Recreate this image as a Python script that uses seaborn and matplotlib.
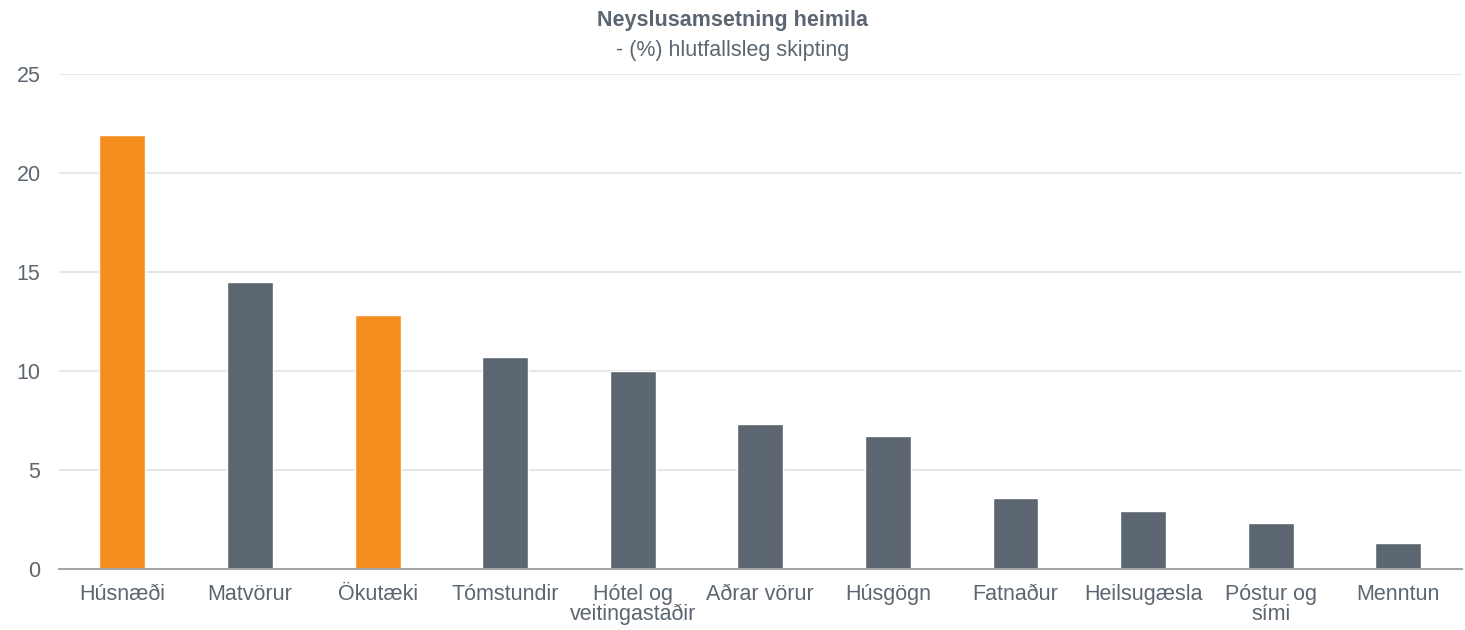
import matplotlib
matplotlib.use("Agg")
import matplotlib.pyplot as plt
import seaborn as sns
import pandas as pd

# ------------------------------------------
# Data
# ------------------------------------------
categories = ["Húsnæði", "Matvörur", "Ökutæki", "Tómstundir", "Hótel og\nveitingastaðir",
              "Aðrar vörur", "Húsgögn", "Fatnaður", "Heilsugæsla", "Póstur og\nsími", "Menntun"]
shares = [21.9, 14.5, 12.8, 10.7, 10.0, 7.3, 6.7, 3.6, 2.9, 2.3, 1.3]
highlighted = ["Húsnæði", "Ökutæki"]

df = pd.DataFrame({"Flokkur": categories, "Hlutfall": shares})
df["Litur"] = ["orange" if c in highlighted else "grey" for c in categories]

ORANGE = "#F58D1F"
GREY = "#5B6670"
TEXT = "#5B6670"

# ------------------------------------------
# Plot
# ------------------------------------------
sns.set_style("white")
plt.rcParams["font.family"] = ["Liberation Sans", "DejaVu Sans"]

fig = plt.figure(figsize=(14.65, 6.3), dpi=100)
ax = fig.add_axes([0.040, 0.097, 0.958, 0.786])

sns.barplot(data=df, x="Flokkur", y="Hlutfall", hue="Litur",
            palette={"orange": ORANGE, "grey": GREY},
            width=0.36, legend=False, ax=ax, saturation=1)

ax.set_ylim(0, 25)
ax.set_xlim(-0.5, len(categories) - 0.5)
ax.set_yticks([0, 5, 10, 15, 20, 25])
ax.yaxis.grid(True, color="#E3E3E3", linewidth=1.2)
ax.set_axisbelow(True)
ax.set_xlabel("")
ax.set_ylabel("")

for side in ["top", "right", "left"]:
    ax.spines[side].set_visible(False)
ax.spines["bottom"].set_color("#A6A6A6")
ax.spines["bottom"].set_linewidth(1.5)

ax.tick_params(axis="both", length=0, labelsize=15.5, colors=TEXT)
ax.tick_params(axis="y", pad=13)
ax.tick_params(axis="x", pad=11)
for lbl in ax.get_xticklabels():
    lbl.set_linespacing(0.92)

fig.text(0.5, 0.967, "Neyslusamsetning heimila", ha="center", va="center",
         fontsize=15.5, fontweight="bold", color=TEXT)
fig.text(0.5, 0.920, "- (%) hlutfallsleg skipting", ha="center", va="center",
         fontsize=15.5, color=TEXT)

fig.savefig("out.png", dpi=100)
